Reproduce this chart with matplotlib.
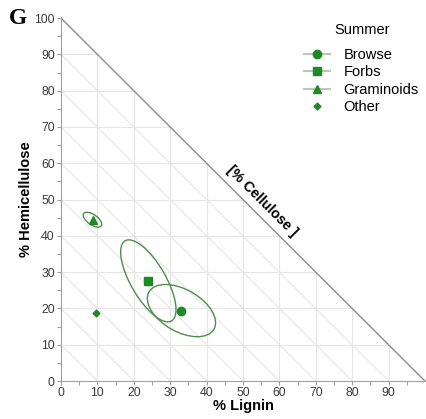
import numpy as np
import matplotlib

matplotlib.use("Agg")
import matplotlib.pyplot as plt
from matplotlib.lines import Line2D
from matplotlib.patches import Ellipse

# Group means (% lignin, % hemicellulose)
groups = ["Browse", "Forbs", "Graminoids", "Other"]
lignin = [33.0, 24.0, 8.7, 9.5]
hemicellulose = [19.2, 27.6, 44.5, 18.7]
markers = ["o", "s", "^", "D"]
marker_sizes = [6, 5.5, 6, 3.5]

# Confidence ellipses: centre, full width, full height, angle (deg)
ell_groups = ["Browse", "Forbs", "Graminoids"]
ell_x = [33.1, 24.0, 8.65]
ell_y = [19.4, 27.6, 44.45]
ell_w = [20.6, 25.5, 5.9]
ell_h = [11.6, 9.6, 2.8]
ell_angle = [-30, -60, -35]

grid_levels = [10, 20, 30, 40, 50, 60, 70, 80, 90]

GREEN = "#1f8a25"
ELL = "#4e8e4e"
GRID = "#e6e6e6"

plt.rcParams["font.family"] = ["Liberation Sans", "DejaVu Sans"]

fig = plt.figure(figsize=(4.27, 4.19), dpi=100)
ax = fig.add_axes([61 / 427, 1 - 381 / 419, 365 / 427, 364 / 419])

# ternary-style grid inside the triangle
for g in grid_levels:
    ax.plot([g, g], [0, 100 - g], color=GRID, lw=0.8, zorder=1)
    ax.plot([0, 100 - g], [g, g], color=GRID, lw=0.8, zorder=1)
    ax.plot([0, g], [g, 0], color=GRID, lw=0.8, zorder=1)
ax.plot([0, 100], [100, 0], color="#8c8c8c", lw=1.0, zorder=2)

for x, y, w, h, a in zip(ell_x, ell_y, ell_w, ell_h, ell_angle):
    ax.add_patch(Ellipse((x, y), w, h, angle=a, fill=False, edgecolor=ELL, lw=1.0, zorder=3))

for x, y, m, s in zip(lignin, hemicellulose, markers, marker_sizes):
    ax.plot(x, y, marker=m, ms=s, color=GREEN, mec=GREEN, ls="none", zorder=4)

ax.set_xlim(0, 100.3)
ax.set_ylim(0, 100.3)
ax.set_xticks(np.arange(0, 100, 10))
ax.set_yticks(np.arange(0, 101, 10))
ax.set_xticks(np.arange(5, 100, 5), minor=True)
ax.set_yticks(np.arange(5, 100, 5), minor=True)
ax.tick_params(which="both", direction="out", length=3, width=0.8, color="#a0a0a0",
               labelsize=8.8, labelcolor="#3a3a3a", pad=1.5)
for side in ["top", "right"]:
    ax.spines[side].set_visible(False)
for side in ["left", "bottom"]:
    ax.spines[side].set_color("#a0a0a0")
    ax.spines[side].set_linewidth(0.8)

ax.set_xlabel("% Lignin", fontsize=10.5, fontweight="bold")
ax.set_ylabel("% Hemicellulose", fontsize=10.5, fontweight="bold")
ax.xaxis.set_label_coords(0.5, -18 / 364)
ax.yaxis.set_label_coords(-28 / 365, 0.5)

ax.text(55.1, 49.7, "[% Cellulose ]", rotation=-45, ha="center", va="center",
        fontsize=10.3, fontweight="bold", rotation_mode="anchor")

handles = [
    Line2D([], [], marker=m, ms=s, color=GREEN, mec=GREEN, ls="none")
    for m, s in zip(markers, marker_sizes)
]
for hnd in handles[:3]:
    hnd.set_linestyle("-")
    hnd.set_color("#b5c9b5")
    hnd.set_markerfacecolor(GREEN)
    hnd.set_markeredgecolor(GREEN)
leg = ax.legend(handles, groups, loc="upper left",
                bbox_to_anchor=(291 / 427, 1 - 35 / 419), bbox_transform=fig.transFigure,
                frameon=False, fontsize=10.5, handlelength=1.8,
                handletextpad=0.9, labelspacing=0.23)
fig.text(362 / 427, 1 - 30 / 419, "Summer", fontsize=10.5, ha="center", va="center")

fig.text(18 / 427, 1 - 18 / 419, "G", fontsize=17, fontweight="bold",
         family=["Liberation Serif", "DejaVu Serif"], ha="center", va="center")

fig.savefig("out.png", dpi=100)
